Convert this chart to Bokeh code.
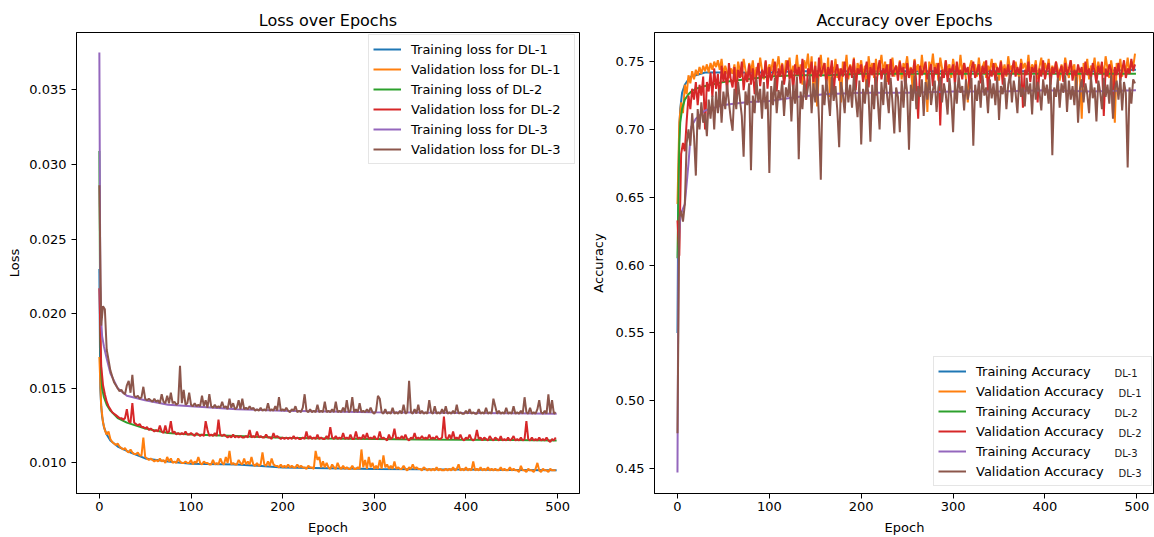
from bokeh.plotting import figure
from bokeh.models import (Range1d, FixedTicker, PrintfTickFormatter, Legend,
                          LegendItem, Label, ColumnDataSource)
from bokeh.layouts import row
from bokeh.embed import file_html
from bokeh.resources import INLINE

# ---------------- data ----------------
COLORS = ["#1f77b4", "#ff7f0e", "#2ca02c", "#d62728", "#9467bd", "#8c564b"]

LOSS_LABELS = ["Training loss for DL-1", "Validation loss for DL-1",
               "Training loss of DL-2", "Validation loss for DL-2",
               "Training loss for DL-3", "Validation loss for DL-3"]
ACC_LABELS = ["Training Accuracy", "Validation Accuracy",
              "Training Accuracy", "Validation Accuracy",
              "Training Accuracy", "Validation Accuracy"]
ACC_TAGS = ["DL-1", "DL-1", "DL-2", "DL-2", "DL-3", "DL-3"]

X_TICKS = [0, 100, 200, 300, 400, 500]
LOSS_TICKS = [0.010, 0.015, 0.020, 0.025, 0.030, 0.035]
ACC_TICKS = [0.45, 0.50, 0.55, 0.60, 0.65, 0.70, 0.75]

# smooth training curves (read at selected epochs)
TRAIN_LOSS_EPOCHS = [0, 1, 2, 3, 5, 8, 12, 20, 30, 50, 75, 100, 150, 200, 250, 300, 350, 400, 450, 499]
TRAIN_LOSS_DL1 = [0.0230, 0.0150, 0.0138, 0.0131, 0.0124, 0.0119, 0.0115, 0.0111, 0.0108, 0.0103,
                  0.0101, 0.00995, 0.0099, 0.0097, 0.00965, 0.0096, 0.00957, 0.00955, 0.00953, 0.0095]
TRAIN_LOSS_DL2 = [0.0309, 0.0185, 0.0160, 0.0150, 0.0144, 0.0139, 0.0135, 0.0130, 0.0127, 0.0123,
                  0.0120, 0.0119, 0.0118, 0.01168, 0.01163, 0.0116, 0.01157, 0.01155, 0.01153, 0.0115]
TRAIN_LOSS_DL3 = [0.0375, 0.0220, 0.0195, 0.0185, 0.0178, 0.0170, 0.0160, 0.0150, 0.0145, 0.0142,
                  0.0139, 0.0138, 0.0136, 0.0135, 0.01345, 0.0134, 0.01337, 0.01335, 0.01333, 0.0133]

TRAIN_ACC_EPOCHS = [0, 1, 2, 3, 5, 8, 12, 15, 20, 30, 50, 75, 100, 130, 160, 200, 250, 300, 350, 400, 450, 499]
TRAIN_ACC_DL1 = [0.550, 0.660, 0.700, 0.715, 0.727, 0.733, 0.737, 0.739, 0.740, 0.742, 0.742,
                 0.742, 0.742, 0.743, 0.743, 0.743, 0.743, 0.743, 0.743, 0.743, 0.743, 0.744]
TRAIN_ACC_DL2 = [0.605, 0.650, 0.690, 0.705, 0.715, 0.722, 0.726, 0.728, 0.730, 0.732, 0.735,
                 0.737, 0.739, 0.740, 0.740, 0.741, 0.741, 0.741, 0.741, 0.741, 0.741, 0.741]
TRAIN_ACC_DL3 = [0.447, 0.600, 0.625, 0.635, 0.640, 0.645, 0.675, 0.702, 0.708, 0.714, 0.718,
                 0.720, 0.721, 0.724, 0.726, 0.727, 0.727, 0.728, 0.728, 0.729, 0.728, 0.729]

# noisy validation curves, one value every 2 epochs (0, 2, ..., 498)
VAL_STEP = 2
VAL_LOSS_DL1 = [
    0.0171, 0.0138, 0.0127, 0.0122, 0.0119, 0.0121, 0.0116, 0.0114, 0.0113, 0.0112,
    0.0113, 0.0111, 0.0110, 0.0109, 0.0110, 0.0108, 0.0107, 0.0109, 0.0107, 0.0106,
    0.0106, 0.0107, 0.0105, 0.0105, 0.0117, 0.0104, 0.0103, 0.0102, 0.0103, 0.0102,
    0.0101, 0.0102, 0.0101, 0.0103, 0.0101, 0.0102, 0.0100, 0.0104, 0.0101, 0.0103,
    0.0100, 0.0101, 0.0100, 0.0103, 0.0101, 0.0100, 0.0100, 0.0101, 0.0100, 0.0100,
    0.0102, 0.0099, 0.0101, 0.0100, 0.0104, 0.0100, 0.0099, 0.0101, 0.0100, 0.0100,
    0.0099, 0.0099, 0.0102, 0.0099, 0.0100, 0.0099, 0.0103, 0.0100, 0.0099, 0.0104,
    0.0100, 0.0108, 0.0099, 0.0100, 0.0099, 0.0099, 0.0102, 0.0100, 0.0099, 0.0103,
    0.0099, 0.0101, 0.0099, 0.0104, 0.0099, 0.0098, 0.0100, 0.0098, 0.0099, 0.0107,
    0.0099, 0.0098, 0.0101, 0.0098, 0.0103, 0.0099, 0.0098, 0.0098, 0.0097, 0.0099,
    0.0097, 0.0098, 0.0097, 0.0099, 0.0097, 0.0098, 0.0097, 0.0097, 0.0099, 0.0097,
    0.0098, 0.0097, 0.0097, 0.0096, 0.0098, 0.0097, 0.0097, 0.0096, 0.0108, 0.0102,
    0.0104, 0.0097, 0.0101, 0.0097, 0.0100, 0.0097, 0.0096, 0.0099, 0.0097, 0.0096,
    0.0100, 0.0097, 0.0096, 0.0098, 0.0096, 0.0097, 0.0096, 0.0096, 0.0098, 0.0096,
    0.0096, 0.0097, 0.0096, 0.0109, 0.0097, 0.0102, 0.0096, 0.0104, 0.0097, 0.0100,
    0.0096, 0.0098, 0.0096, 0.0102, 0.0096, 0.0105, 0.0097, 0.0099, 0.0096, 0.0098,
    0.0096, 0.0101, 0.0096, 0.0097, 0.0096, 0.0096, 0.0098, 0.0096, 0.0095, 0.0097,
    0.0096, 0.0099, 0.0096, 0.0097, 0.0096, 0.0096, 0.0095, 0.0097, 0.0096, 0.0095,
    0.0096, 0.0095, 0.0096, 0.0095, 0.0097, 0.0095, 0.0096, 0.0095, 0.0095, 0.0096,
    0.0095, 0.0096, 0.0095, 0.0097, 0.0095, 0.0096, 0.0099, 0.0095, 0.0096, 0.0095,
    0.0097, 0.0095, 0.0096, 0.0095, 0.0101, 0.0095, 0.0096, 0.0095, 0.0097, 0.0095,
    0.0096, 0.0095, 0.0097, 0.0095, 0.0096, 0.0095, 0.0096, 0.0095, 0.0095, 0.0097,
    0.0095, 0.0096, 0.0095, 0.0095, 0.0097, 0.0095, 0.0096, 0.0095, 0.0095, 0.0094,
    0.0098, 0.0095, 0.0095, 0.0094, 0.0096, 0.0095, 0.0095, 0.0094, 0.0096, 0.0100,
    0.0095, 0.0094, 0.0096, 0.0095, 0.0095, 0.0094, 0.0096, 0.0095, 0.0095, 0.0095]
VAL_LOSS_DL2 = [
    0.0217, 0.0165, 0.0152, 0.0146, 0.0141, 0.0138, 0.0136, 0.0134, 0.0133, 0.0132,
    0.0131, 0.0130, 0.0130, 0.0129, 0.0130, 0.0136, 0.0128, 0.0127, 0.0140, 0.0127,
    0.0126, 0.0125, 0.0126, 0.0124, 0.0124, 0.0123, 0.0124, 0.0122, 0.0123, 0.0122,
    0.0121, 0.0122, 0.0121, 0.0125, 0.0121, 0.0120, 0.0125, 0.0120, 0.0121, 0.0128,
    0.0120, 0.0121, 0.0119, 0.0120, 0.0119, 0.0120, 0.0119, 0.0121, 0.0119, 0.0119,
    0.0120, 0.0119, 0.0118, 0.0120, 0.0119, 0.0118, 0.0119, 0.0118, 0.0128, 0.0122,
    0.0118, 0.0119, 0.0118, 0.0120, 0.0118, 0.0129, 0.0119, 0.0118, 0.0119, 0.0118,
    0.0117, 0.0118, 0.0117, 0.0119, 0.0117, 0.0118, 0.0117, 0.0118, 0.0117, 0.0117,
    0.0118, 0.0117, 0.0122, 0.0117, 0.0118, 0.0117, 0.0121, 0.0117, 0.0118, 0.0117,
    0.0117, 0.0119, 0.0117, 0.0117, 0.0116, 0.0120, 0.0117, 0.0118, 0.0117, 0.0116,
    0.0117, 0.0116, 0.0117, 0.0116, 0.0117, 0.0116, 0.0118, 0.0116, 0.0117, 0.0116,
    0.0116, 0.0117, 0.0116, 0.0121, 0.0116, 0.0118, 0.0116, 0.0117, 0.0116, 0.0119,
    0.0116, 0.0117, 0.0116, 0.0116, 0.0118, 0.0116, 0.0124, 0.0117, 0.0116, 0.0118,
    0.0116, 0.0117, 0.0116, 0.0120, 0.0116, 0.0117, 0.0116, 0.0119, 0.0116, 0.0116,
    0.0121, 0.0116, 0.0117, 0.0116, 0.0119, 0.0116, 0.0120, 0.0116, 0.0117, 0.0116,
    0.0118, 0.0116, 0.0116, 0.0121, 0.0116, 0.0117, 0.0116, 0.0115, 0.0119, 0.0116,
    0.0117, 0.0123, 0.0116, 0.0117, 0.0116, 0.0118, 0.0116, 0.0119, 0.0116, 0.0115,
    0.0117, 0.0116, 0.0120, 0.0116, 0.0117, 0.0116, 0.0118, 0.0116, 0.0117, 0.0116,
    0.0119, 0.0116, 0.0117, 0.0116, 0.0118, 0.0116, 0.0116, 0.0117, 0.0131, 0.0117,
    0.0116, 0.0119, 0.0116, 0.0121, 0.0116, 0.0117, 0.0116, 0.0119, 0.0116, 0.0115,
    0.0117, 0.0116, 0.0119, 0.0116, 0.0115, 0.0116, 0.0122, 0.0116, 0.0117, 0.0115,
    0.0117, 0.0116, 0.0115, 0.0118, 0.0116, 0.0115, 0.0117, 0.0116, 0.0115, 0.0118,
    0.0115, 0.0116, 0.0115, 0.0117, 0.0115, 0.0116, 0.0118, 0.0115, 0.0116, 0.0115,
    0.0117, 0.0115, 0.0116, 0.0128, 0.0116, 0.0115, 0.0117, 0.0115, 0.0116, 0.0115,
    0.0117, 0.0115, 0.0116, 0.0115, 0.0117, 0.0115, 0.0114, 0.0116, 0.0115, 0.0117]
VAL_LOSS_DL3 = [
    0.0286, 0.0192, 0.0205, 0.0203, 0.0176, 0.0169, 0.0162, 0.0158, 0.0154, 0.0152,
    0.0150, 0.0148, 0.0149, 0.0147, 0.0146, 0.0152, 0.0155, 0.0147, 0.0159, 0.0145,
    0.0144, 0.0145, 0.0143, 0.0144, 0.0151, 0.0143, 0.0142, 0.0143, 0.0142, 0.0141,
    0.0143, 0.0141, 0.0142, 0.0140, 0.0146, 0.0141, 0.0140, 0.0145, 0.0140, 0.0147,
    0.0140, 0.0141, 0.0139, 0.0140, 0.0165, 0.0140, 0.0149, 0.0139, 0.0140, 0.0147,
    0.0139, 0.0138, 0.0140, 0.0138, 0.0139, 0.0138, 0.0145, 0.0138, 0.0142, 0.0137,
    0.0146, 0.0138, 0.0137, 0.0139, 0.0137, 0.0138, 0.0137, 0.0141, 0.0137, 0.0138,
    0.0136, 0.0143, 0.0137, 0.0140, 0.0136, 0.0137, 0.0142, 0.0136, 0.0143, 0.0136,
    0.0137, 0.0136, 0.0138, 0.0136, 0.0137, 0.0135, 0.0136, 0.0135, 0.0137, 0.0135,
    0.0136, 0.0135, 0.0140, 0.0135, 0.0136, 0.0135, 0.0138, 0.0135, 0.0144, 0.0135,
    0.0136, 0.0135, 0.0137, 0.0135, 0.0134, 0.0136, 0.0135, 0.0138, 0.0134, 0.0135,
    0.0134, 0.0137, 0.0146, 0.0135, 0.0134, 0.0136, 0.0134, 0.0135, 0.0134, 0.0139,
    0.0134, 0.0135, 0.0134, 0.0141, 0.0134, 0.0135, 0.0134, 0.0136, 0.0134, 0.0141,
    0.0134, 0.0135, 0.0134, 0.0137, 0.0134, 0.0142, 0.0134, 0.0135, 0.0144, 0.0134,
    0.0136, 0.0134, 0.0140, 0.0134, 0.0135, 0.0134, 0.0136, 0.0134, 0.0137, 0.0134,
    0.0133, 0.0135, 0.0145, 0.0143, 0.0134, 0.0133, 0.0136, 0.0133, 0.0134, 0.0133,
    0.0137, 0.0133, 0.0134, 0.0133, 0.0135, 0.0133, 0.0139, 0.0133, 0.0134, 0.0155,
    0.0134, 0.0133, 0.0136, 0.0133, 0.0139, 0.0133, 0.0135, 0.0133, 0.0134, 0.0133,
    0.0142, 0.0134, 0.0133, 0.0138, 0.0133, 0.0134, 0.0133, 0.0136, 0.0133, 0.0138,
    0.0133, 0.0134, 0.0133, 0.0135, 0.0133, 0.0139, 0.0133, 0.0134, 0.0133, 0.0133,
    0.0135, 0.0133, 0.0136, 0.0133, 0.0134, 0.0133, 0.0133, 0.0136, 0.0133, 0.0134,
    0.0133, 0.0137, 0.0133, 0.0134, 0.0133, 0.0143, 0.0138, 0.0133, 0.0135, 0.0133,
    0.0134, 0.0133, 0.0137, 0.0133, 0.0134, 0.0133, 0.0138, 0.0133, 0.0134, 0.0133,
    0.0135, 0.0133, 0.0144, 0.0134, 0.0133, 0.0137, 0.0133, 0.0134, 0.0133, 0.0136,
    0.0142, 0.0134, 0.0133, 0.0135, 0.0133, 0.0146, 0.0133, 0.0142, 0.0133, 0.0134]

VAL_ACC_DL1 = [
    0.645, 0.705, 0.720, 0.712, 0.733, 0.726, 0.740, 0.734, 0.743, 0.737,
    0.744, 0.740, 0.746, 0.741, 0.747, 0.743, 0.748, 0.742, 0.749, 0.744,
    0.750, 0.746, 0.751, 0.744, 0.752, 0.740, 0.747, 0.742, 0.738, 0.745,
    0.741, 0.748, 0.737, 0.750, 0.743, 0.739, 0.752, 0.744, 0.735, 0.749,
    0.742, 0.751, 0.738, 0.746, 0.740, 0.753, 0.744, 0.737, 0.750, 0.741,
    0.748, 0.743, 0.752, 0.739, 0.746, 0.754, 0.741, 0.749, 0.736, 0.751,
    0.744, 0.753, 0.738, 0.747, 0.742, 0.755, 0.740, 0.748, 0.733, 0.751,
    0.745, 0.756, 0.739, 0.754, 0.728, 0.750, 0.717, 0.746, 0.755, 0.741,
    0.749, 0.736, 0.753, 0.724, 0.747, 0.742, 0.752, 0.738, 0.745, 0.720,
    0.750, 0.743, 0.755, 0.737, 0.748, 0.741, 0.753, 0.733, 0.749, 0.744,
    0.751, 0.739, 0.747, 0.726, 0.754, 0.743, 0.749, 0.738, 0.752, 0.740,
    0.746, 0.755, 0.742, 0.750, 0.735, 0.748, 0.744, 0.753, 0.739, 0.747,
    0.742, 0.751, 0.737, 0.749, 0.745, 0.754, 0.740, 0.746, 0.729, 0.752,
    0.743, 0.748, 0.738, 0.755, 0.741, 0.747, 0.713, 0.750, 0.744, 0.756,
    0.742, 0.749, 0.736, 0.753, 0.745, 0.740, 0.751, 0.743, 0.748, 0.738,
    0.752, 0.744, 0.747, 0.740, 0.755, 0.742, 0.749, 0.737, 0.720, 0.746,
    0.751, 0.743, 0.748, 0.739, 0.753, 0.741, 0.746, 0.750, 0.738, 0.747,
    0.743, 0.752, 0.740, 0.749, 0.745, 0.736, 0.751, 0.742, 0.748, 0.739,
    0.754, 0.744, 0.747, 0.741, 0.750, 0.743, 0.738, 0.752, 0.745, 0.749,
    0.742, 0.755, 0.740, 0.748, 0.744, 0.751, 0.737, 0.746, 0.753, 0.741,
    0.749, 0.743, 0.752, 0.739, 0.747, 0.742, 0.750, 0.744, 0.736, 0.748,
    0.741, 0.753, 0.745, 0.738, 0.751, 0.743, 0.748, 0.726, 0.746, 0.740,
    0.708, 0.749, 0.742, 0.752, 0.737, 0.747, 0.744, 0.753, 0.739, 0.750,
    0.743, 0.748, 0.740, 0.754, 0.745, 0.738, 0.751, 0.742, 0.705, 0.749,
    0.744, 0.752, 0.739, 0.748, 0.743, 0.753, 0.741, 0.750, 0.746, 0.756]
VAL_ACC_DL2 = [
    0.633, 0.607, 0.682, 0.690, 0.684, 0.706, 0.725, 0.715, 0.730, 0.722,
    0.735, 0.718, 0.733, 0.725, 0.739, 0.700, 0.735, 0.728, 0.742, 0.724,
    0.745, 0.730, 0.741, 0.719, 0.747, 0.735, 0.743, 0.728, 0.749, 0.737,
    0.731, 0.746, 0.724, 0.744, 0.738, 0.750, 0.729, 0.742, 0.735, 0.748,
    0.733, 0.745, 0.726, 0.740, 0.749, 0.732, 0.744, 0.738, 0.751, 0.730,
    0.746, 0.736, 0.742, 0.750, 0.728, 0.745, 0.739, 0.748, 0.733, 0.743,
    0.751, 0.737, 0.744, 0.729, 0.748, 0.740, 0.746, 0.734, 0.752, 0.738,
    0.722, 0.745, 0.741, 0.750, 0.735, 0.747, 0.731, 0.753, 0.739, 0.744,
    0.749, 0.733, 0.746, 0.740, 0.751, 0.727, 0.743, 0.748, 0.736, 0.745,
    0.739, 0.750, 0.732, 0.744, 0.747, 0.738, 0.752, 0.729, 0.745, 0.741,
    0.748, 0.735, 0.743, 0.750, 0.731, 0.746, 0.740, 0.749, 0.725, 0.744,
    0.751, 0.737, 0.745, 0.741, 0.748, 0.733, 0.752, 0.739, 0.744, 0.747,
    0.736, 0.750, 0.742, 0.746, 0.730, 0.749, 0.738, 0.745, 0.741, 0.751,
    0.734, 0.708, 0.747, 0.740, 0.744, 0.750, 0.737, 0.743, 0.748, 0.732,
    0.746, 0.741, 0.749, 0.703, 0.744, 0.738, 0.751, 0.735, 0.745, 0.742,
    0.748, 0.733, 0.750, 0.740, 0.744, 0.737, 0.749, 0.742, 0.746, 0.731,
    0.745, 0.750, 0.738, 0.743, 0.748, 0.734, 0.747, 0.741, 0.751, 0.728,
    0.744, 0.739, 0.749, 0.736, 0.746, 0.742, 0.750, 0.733, 0.745, 0.740,
    0.748, 0.737, 0.743, 0.751, 0.739, 0.746, 0.741, 0.749, 0.716, 0.744,
    0.740, 0.750, 0.735, 0.746, 0.742, 0.748, 0.720, 0.745, 0.739, 0.751,
    0.737, 0.744, 0.749, 0.733, 0.746, 0.741, 0.750, 0.738, 0.743, 0.747,
    0.735, 0.749, 0.740, 0.745, 0.751, 0.736, 0.744, 0.739, 0.748, 0.742,
    0.746, 0.731, 0.750, 0.740, 0.745, 0.737, 0.749, 0.743, 0.734, 0.747,
    0.741, 0.750, 0.710, 0.745, 0.739, 0.748, 0.744, 0.711, 0.746, 0.740,
    0.749, 0.736, 0.744, 0.751, 0.738, 0.745, 0.741, 0.752, 0.743, 0.748]
VAL_ACC_DL3 = [
    0.476, 0.635, 0.640, 0.632, 0.645, 0.690, 0.700, 0.688, 0.712, 0.695,
    0.666, 0.715, 0.700, 0.720, 0.705, 0.712, 0.695, 0.722, 0.708, 0.725,
    0.700, 0.728, 0.712, 0.730, 0.705, 0.728, 0.715, 0.733, 0.720, 0.708,
    0.699, 0.730, 0.715, 0.735, 0.722, 0.710, 0.680, 0.728, 0.718, 0.734,
    0.670, 0.725, 0.712, 0.737, 0.720, 0.730, 0.708, 0.735, 0.715, 0.728,
    0.668, 0.732, 0.718, 0.738, 0.712, 0.729, 0.722, 0.736, 0.710, 0.731,
    0.724, 0.737, 0.706, 0.733, 0.719, 0.739, 0.678, 0.728, 0.715, 0.736,
    0.722, 0.731, 0.740, 0.712, 0.734, 0.720, 0.738, 0.708, 0.663, 0.733,
    0.718, 0.737, 0.725, 0.710, 0.739, 0.721, 0.732, 0.714, 0.687, 0.735,
    0.726, 0.712, 0.738, 0.720, 0.733, 0.716, 0.740, 0.724, 0.709, 0.736,
    0.689, 0.730, 0.719, 0.737, 0.725, 0.691, 0.733, 0.715, 0.739, 0.722,
    0.700, 0.735, 0.718, 0.741, 0.726, 0.712, 0.738, 0.720, 0.697, 0.731,
    0.724, 0.698, 0.736, 0.716, 0.739, 0.728, 0.685, 0.733, 0.721, 0.740,
    0.715, 0.732, 0.724, 0.737, 0.710, 0.735, 0.722, 0.741, 0.718, 0.729,
    0.736, 0.713, 0.731, 0.739, 0.720, 0.734, 0.726, 0.711, 0.738, 0.723,
    0.698, 0.735, 0.719, 0.740, 0.727, 0.732, 0.714, 0.737, 0.722, 0.730,
    0.738, 0.688, 0.733, 0.721, 0.736, 0.716, 0.740, 0.725, 0.731, 0.712,
    0.737, 0.723, 0.734, 0.718, 0.739, 0.707, 0.732, 0.726, 0.738, 0.715,
    0.733, 0.741, 0.720, 0.736, 0.727, 0.712, 0.739, 0.724, 0.731, 0.717,
    0.738, 0.726, 0.734, 0.711, 0.740, 0.722, 0.735, 0.728, 0.714, 0.737,
    0.725, 0.733, 0.719, 0.739, 0.681, 0.731, 0.724, 0.738, 0.716, 0.734,
    0.727, 0.740, 0.713, 0.736, 0.722, 0.732, 0.718, 0.739, 0.705, 0.730,
    0.737, 0.720, 0.734, 0.726, 0.712, 0.739, 0.723, 0.731, 0.706, 0.736,
    0.728, 0.715, 0.738, 0.724, 0.733, 0.719, 0.740, 0.708, 0.730, 0.736,
    0.722, 0.738, 0.714, 0.735, 0.727, 0.672, 0.731, 0.719, 0.737, 0.734]

# ---------------- layout / style ----------------
FONT = "DejaVu Sans"
FIG_H = 537
TOP_B, BOT_B = 32, 42
LEG_PAD, ROW_H = 4, 20


def val_epochs(vals):
    return [i * VAL_STEP for i in range(len(vals))]


def style(p, xlabel, ylabel, yticks, yfmt, ylabel_standoff):
    p.title.text_font = FONT
    p.title.text_font_size = "16px"
    p.title.text_font_style = "normal"
    p.title.text_color = "black"
    p.title.align = "center"
    p.title.standoff = 6
    p.outline_line_color = "black"
    p.outline_line_width = 1
    p.outline_line_alpha = 1
    p.background_fill_color = "white"
    p.border_fill_color = "white"
    p.xgrid.visible = False
    p.ygrid.visible = False
    p.xaxis.axis_label = xlabel
    p.yaxis.axis_label = ylabel
    p.xaxis.ticker = FixedTicker(ticks=X_TICKS)
    p.yaxis.ticker = FixedTicker(ticks=yticks)
    p.yaxis.formatter = PrintfTickFormatter(format=yfmt)
    for ax in (p.xaxis[0], p.yaxis[0]):
        ax.axis_line_color = "black"
        ax.major_tick_line_color = "black"
        ax.major_tick_out = 5
        ax.major_tick_in = 0
        ax.minor_tick_line_color = None
        ax.major_label_text_font = FONT
        ax.major_label_text_font_size = "13px"
        ax.major_label_text_color = "black"
        ax.major_label_text_line_height = 1.0
        ax.axis_label_text_font = FONT
        ax.axis_label_text_font_size = "13px"
        ax.axis_label_text_font_style = "normal"
        ax.axis_label_text_color = "black"
        ax.axis_label_text_line_height = 1.0
    p.xaxis.major_label_standoff = 3
    p.xaxis.axis_label_standoff = 6
    p.yaxis.major_label_standoff = 5
    p.yaxis.axis_label_standoff = ylabel_standoff


def add_lines(p, series):
    rends = []
    for (xs, ys), c in zip(series, COLORS):
        src = ColumnDataSource(dict(x=xs, y=ys))
        rends.append(p.line("x", "y", source=src, line_color=c, line_width=2))
    return rends


def make_legend(rends, labels, loc, label_width, bg_alpha):
    items = [LegendItem(label=l, renderers=[r]) for l, r in zip(labels, rends)]
    return Legend(items=items, location=loc, label_text_font=FONT,
                  label_text_font_size="13px", label_text_color="black",
                  label_height=ROW_H, glyph_height=ROW_H, glyph_width=28,
                  label_standoff=10, label_width=label_width, spacing=0,
                  padding=LEG_PAD, margin=0, border_line_color="#cccccc",
                  border_line_width=1, background_fill_color="white",
                  background_fill_alpha=bg_alpha)


# ---- Loss plot ----
p1 = figure(width=580, height=FIG_H, title="Loss over Epochs",
            x_range=Range1d(-24.95, 523.95), y_range=Range1d(0.00795, 0.03884),
            output_backend="svg", toolbar_location=None,
            min_border_left=76, min_border_right=1,
            min_border_top=TOP_B, min_border_bottom=BOT_B)
style(p1, "Epoch", "Loss", LOSS_TICKS, "%.3f", 4)
r1 = add_lines(p1, [
    (TRAIN_LOSS_EPOCHS, TRAIN_LOSS_DL1), (val_epochs(VAL_LOSS_DL1), VAL_LOSS_DL1),
    (TRAIN_LOSS_EPOCHS, TRAIN_LOSS_DL2), (val_epochs(VAL_LOSS_DL2), VAL_LOSS_DL2),
    (TRAIN_LOSS_EPOCHS, TRAIN_LOSS_DL3), (val_epochs(VAL_LOSS_DL3), VAL_LOSS_DL3)])
p1.add_layout(make_legend(r1, LOSS_LABELS, (292, 329), 159, 0.85))

# ---- Accuracy plot ----
p2 = figure(width=574, height=FIG_H, title="Accuracy over Epochs",
            x_range=Range1d(-25.0, 519.2), y_range=Range1d(0.4316, 0.7715),
            output_backend="svg", toolbar_location=None,
            min_border_left=74, min_border_right=0,
            min_border_top=TOP_B, min_border_bottom=BOT_B)
style(p2, "Epoch", "Accuracy", ACC_TICKS, "%.2f", 7)
r2 = add_lines(p2, [
    (TRAIN_ACC_EPOCHS, TRAIN_ACC_DL1), (val_epochs(VAL_ACC_DL1), VAL_ACC_DL1),
    (TRAIN_ACC_EPOCHS, TRAIN_ACC_DL2), (val_epochs(VAL_ACC_DL2), VAL_ACC_DL2),
    (TRAIN_ACC_EPOCHS, TRAIN_ACC_DL3), (val_epochs(VAL_ACC_DL3), VAL_ACC_DL3)])
LEG2_X, LEG2_Y = 279, 7
p2.add_layout(make_legend(r2, ACC_LABELS, (LEG2_X, LEG2_Y), 171, 0.0))
box_h = 2 * LEG_PAD + ROW_H * len(ACC_TAGS)
for k, tag in enumerate(ACC_TAGS):
    cy = LEG2_Y + box_h - LEG_PAD - ROW_H / 2 - ROW_H * k - 1
    tx = 460 if k % 2 == 0 else 464
    p2.add_layout(Label(x=tx, y=cy, x_units="screen", y_units="screen",
                        text=tag, text_font=FONT, text_font_size="10px",
                        text_color="#1a1a1a", text_baseline="middle",
                        level="overlay"))

layout = row(p1, p2)
open("out.html", "w").write(file_html(layout, INLINE))
